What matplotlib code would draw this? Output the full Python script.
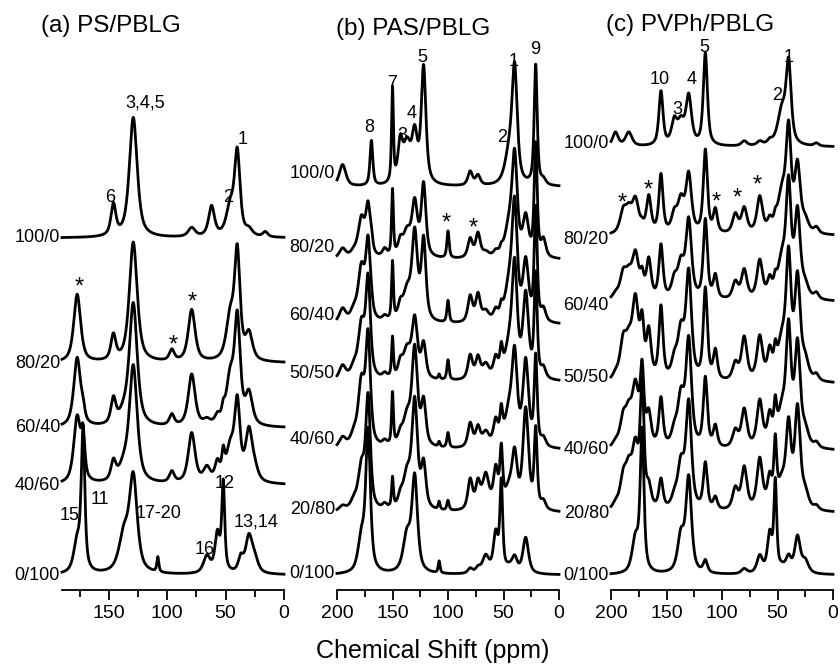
import numpy as np
import matplotlib.pyplot as plt
from matplotlib.ticker import MultipleLocator

plt.rcParams['font.family'] = ['Liberation Sans', 'DejaVu Sans']

# ---- (a) PS/PBLG : peak position (ppm), half width (ppm), height per blend
ps_ppm = [177, 172, 146, 137, 129, 108, 96, 79, 66, 62, 57, 52, 46, 40, 37, 30, 25, 16]
ps_hw = [3.5, 1.8, 2.5, 5.0, 4.0, 1.0, 2.5, 3.5, 3.5, 3.0, 2.5, 1.5, 4.0, 2.8, 2.5, 3.5, 3.5, 2.5]
ps_blends = ["100/0", "80/20", "60/40", "40/60", "0/100"]
ps_heights = [
    [0, 0, 31, 0, 120, 0, 0, 9, 0, 30, 0, 0, 28, 82, 0, 6, 0, 5],
    [68, 0, 25, 0, 120, 0, 11, 52, 0, 0, 0, 0, 42, 105, 0, 26, 0, 0],
    [69, 10, 25, 10, 122, 0, 11, 52, 5, 0, 8, 10, 46, 100, 5, 31, 0, 0],
    [66, 40, 19, 14, 116, 0, 11, 50, 14, 0, 18, 23, 32, 76, 0, 50, 10, 0],
    [30, 140, 0, 36, 94, 15, 0, 0, 17, 0, 38, 88, 0, 0, 14, 36, 12, 0],
]

# ---- (b) PAS/PBLG
pas_ppm = [195, 185, 178, 172, 169, 157, 150, 143, 137, 130, 122, 108, 100, 80, 73, 66, 57, 52, 45, 40, 30, 21, 14]
pas_hw = [3.5, 3.5, 3.5, 2.5, 1.5, 2.5, 1.0, 2.5, 4.0, 3.0, 2.5, 1.0, 1.2, 2.5, 2.5, 3.5, 2.5, 1.5, 4.5, 2.8, 3.0, 1.6, 2.5]
pas_blends = ["100/0", "80/20", "60/40", "50/50", "40/60", "20/80", "0/100"]
pas_heights = [
    [22, 0, 0, 0, 45, 0, 94, 38, 38, 46, 116, 0, 0, 14, 10, 0, 0, 0, 28, 112, 0, 120, 5],
    [10, 5, 38, 48, 10, 8, 66, 14, 24, 52, 72, 0, 27, 19, 24, 5, 5, 5, 28, 96, 38, 112, 17],
    [14, 10, 52, 76, 5, 5, 58, 14, 28, 86, 80, 0, 22, 26, 27, 10, 10, 10, 32, 110, 58, 112, 12],
    [14, 10, 52, 96, 0, 5, 40, 14, 28, 58, 34, 5, 20, 24, 21, 14, 19, 24, 28, 106, 82, 102, 10],
    [10, 10, 62, 106, 0, 5, 52, 10, 28, 96, 43, 5, 15, 24, 19, 14, 24, 29, 32, 84, 84, 88, 8],
    [5, 8, 41, 110, 0, 5, 30, 10, 33, 106, 43, 8, 10, 30, 25, 34, 38, 54, 18, 50, 100, 78, 8],
    [0, 0, 33, 140, 0, 0, 0, 0, 36, 94, 0, 12, 0, 5, 5, 17, 38, 88, 5, 14, 36, 0, 0],
]

# ---- (c) PVPh/PBLG
pvph_ppm = [196, 189, 184, 178, 172, 166, 155, 143, 137, 130, 115, 106, 88, 80, 66, 57, 52, 46, 40, 32, 25, 15]
pvph_hw = [3.0, 3.5, 3.5, 3.5, 2.0, 2.5, 2.2, 3.0, 3.5, 3.0, 2.2, 2.2, 3.0, 3.0, 3.0, 2.5, 1.5, 4.5, 2.7, 3.0, 3.5, 2.5]
pvph_blends = ["100/0", "80/20", "60/40", "50/50", "40/60", "20/80", "0/100"]
pvph_heights = [
    [14, 0, 14, 0, 0, 0, 54, 23, 21, 48, 92, 0, 0, 5, 4, 4, 0, 34, 78, 0, 0, 3],
    [0, 21, 19, 32, 5, 36, 58, 17, 31, 57, 83, 23, 19, 25, 36, 11, 8, 38, 96, 65, 11, 6],
    [5, 24, 19, 43, 19, 38, 53, 17, 33, 77, 79, 23, 17, 29, 38, 17, 11, 36, 106, 84, 11, 6],
    [5, 36, 28, 76, 48, 46, 72, 17, 46, 105, 91, 29, 17, 43, 43, 27, 21, 36, 115, 99, 17, 6],
    [5, 27, 28, 57, 72, 31, 48, 14, 48, 105, 69, 21, 17, 38, 46, 29, 33, 33, 110, 100, 14, 5],
    [5, 29, 33, 57, 120, 19, 29, 10, 43, 105, 46, 12, 21, 42, 50, 29, 60, 24, 77, 99, 14, 4],
    [0, 0, 0, 33, 140, 0, 0, 0, 36, 94, 12, 0, 0, 5, 17, 38, 88, 5, 14, 36, 12, 0],
]

# ---- layout (pixels of an 840x669 canvas; axis line at y=590)
W, H = 840, 669
AX_Y = 590
panels = [
    dict(title="(a) PS/PBLG", left=62, xmax=190, tx=111, ty=26,
         ppm=ps_ppm, hw=ps_hw, blends=ps_blends, heights=ps_heights,
         base=[238, 363, 428, 485, 575], lab_y=[238, 363, 428, 485, 575], lab_x=60,
         majors=[150, 100, 50, 0],
         notes=[("3,4,5", 145, 103), ("1", 243, 140), ("6", 110, 197), ("2", 228, 198),
                ("*", 79, 288), ("*", 192, 303), ("*", 173, 346),
                ("15", 70, 515), ("11", 100, 500), ("17-20", 159, 513),
                ("16", 205, 550), ("12", 225, 483), ("13,14", 256, 522)]),
    dict(title="(b) PAS/PBLG", left=337, xmax=200, tx=413, ty=29,
         ppm=pas_ppm, hw=pas_hw, blends=pas_blends, heights=pas_heights,
         base=[187, 260, 325, 382, 450, 513, 575], lab_y=[173, 248, 315, 373, 440, 510, 573], lab_x=335,
         majors=[200, 150, 100, 50, 0],
         notes=[("8", 369, 128), ("7", 392, 83), ("3", 402, 135), ("4", 412, 113),
                ("5", 422, 57), ("2", 502, 137), ("1", 514, 62), ("9", 535, 50),
                ("*", 446, 224), ("*", 473, 229)]),
    dict(title="(c) PVPh/PBLG", left=611, xmax=200, tx=690, ty=25,
         ppm=pvph_ppm, hw=pvph_hw, blends=pvph_blends, heights=pvph_heights,
         base=[147, 236, 302, 384, 451, 513, 575], lab_y=[143, 240, 305, 378, 450, 513, 575], lab_x=609,
         majors=[200, 150, 100, 50, 0],
         notes=[("10", 660, 80), ("3", 677, 110), ("4", 692, 80), ("5", 704, 47),
                ("2", 777, 95), ("1", 789, 58), ("*", 622, 204), ("*", 648, 191),
                ("*", 716, 203), ("*", 737, 199), ("*", 757, 186)]),
]


def spectrum(x, ppm, hw, h):
    y = np.zeros_like(x)
    for p, w, a in zip(ppm, hw, h):
        lor = 1.0 / (1.0 + ((x - p) / w) ** 2)
        gau = np.exp(-np.log(2) * ((x - p) / w) ** 2)
        y += a * (0.7 * lor + 0.3 * gau)
    return y


fig = plt.figure(figsize=(W / 100, H / 100), dpi=100)

for P in panels:
    ax = fig.add_axes([P["left"] / W, (H - AX_Y) / H, 222 / W, (AX_Y - 40) / H])
    ax.set_xlim(P["xmax"], 0)
    ax.set_ylim(0, AX_Y - 40)
    x = np.linspace(P["xmax"], 0, 2400)
    for i, blend in enumerate(P["blends"]):
        off = AX_Y - P["base"][i]
        y = spectrum(x, P["ppm"], P["hw"], P["heights"][i])
        ax.plot(x, off + y, color="black", lw=2.0, clip_on=False, solid_joinstyle="round")
        fig.text(P["lab_x"] / W, 1 - P["lab_y"][i] / H, blend, ha="right", va="center", fontsize=13)
    for s, tx, ty in P["notes"]:
        fs = 17 if s == "*" else 13
        fig.text(tx / W, 1 - ty / H, s, ha="center", va="center", fontsize=fs)
    fig.text(P["tx"] / W, 1 - P["ty"] / H, P["title"], ha="center", va="center", fontsize=17.5)

    for side in ("left", "right", "top"):
        ax.spines[side].set_visible(False)
    ax.spines["bottom"].set_linewidth(1.3)
    ax.set_yticks([])
    ax.set_xticks(P["majors"])
    ax.xaxis.set_minor_locator(MultipleLocator(25))
    ax.tick_params(axis="x", which="both", direction="out", width=1.3, labelsize=14)
    ax.tick_params(axis="x", which="major", length=7, pad=4)
    ax.tick_params(axis="x", which="minor", length=5)
    ax.patch.set_alpha(0)

fig.text(433 / W, 1 - 651 / H, "Chemical Shift (ppm)", ha="center", va="center", fontsize=18)

fig.savefig("out.png", dpi=100)
